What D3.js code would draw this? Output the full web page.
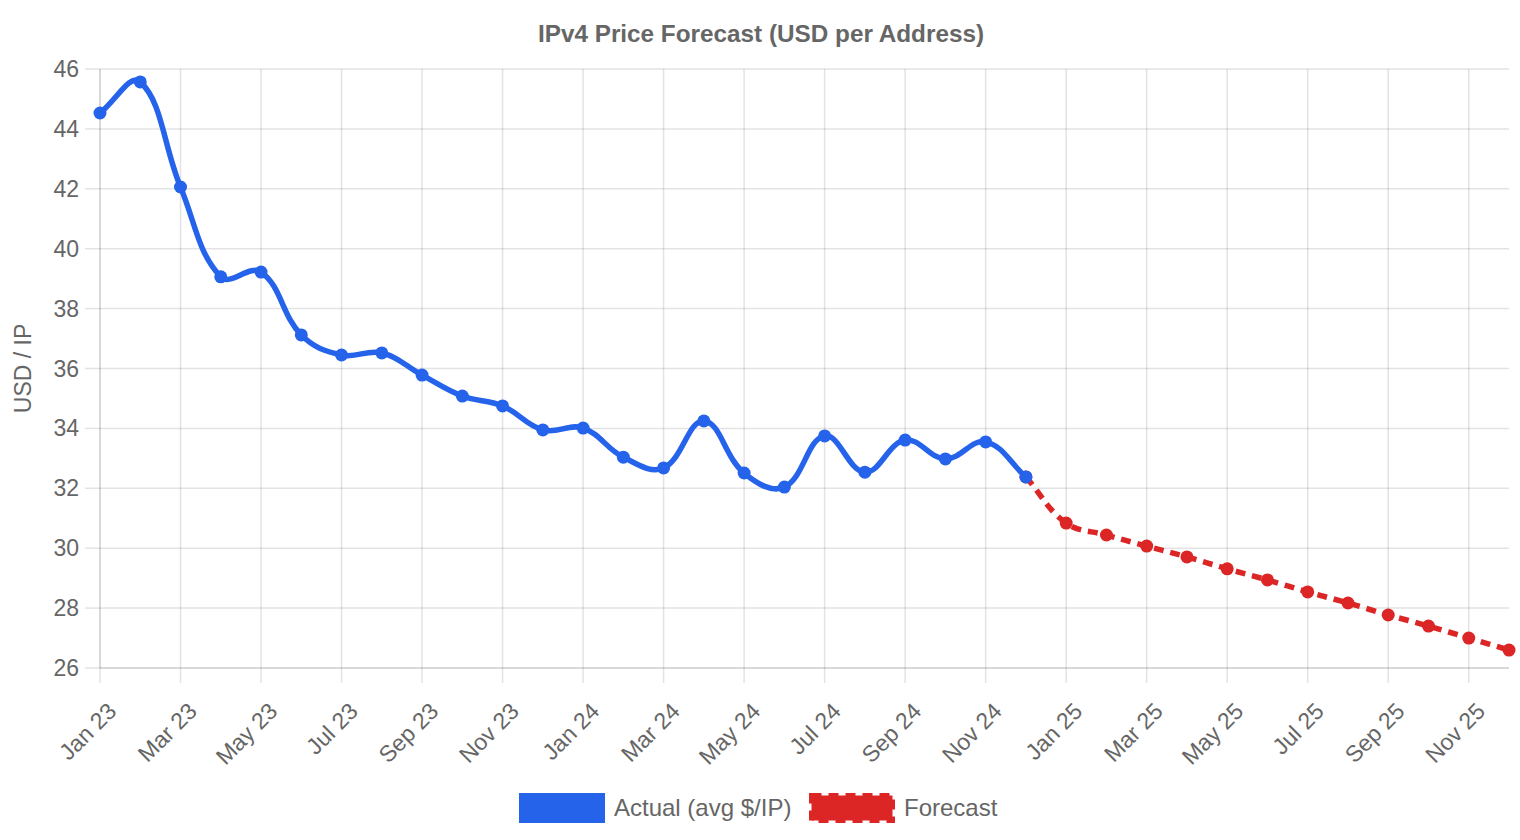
<!DOCTYPE html>
<html><head><meta charset="utf-8">
<script src="https://cdn.jsdelivr.net/npm/d3@7"></script>
<style>
html,body{margin:0;padding:0;background:#fff;}
svg{display:block;font-family:"Liberation Sans",Arial,Helvetica,sans-serif;}
</style></head>
<body><svg id="c" width="1520" height="840"></svg>
<script>
const months = ["Jan 23","Feb 23","Mar 23","Apr 23","May 23","Jun 23","Jul 23","Aug 23","Sep 23","Oct 23","Nov 23","Dec 23",
"Jan 24","Feb 24","Mar 24","Apr 24","May 24","Jun 24","Jul 24","Aug 24","Sep 24","Oct 24","Nov 24","Dec 24",
"Jan 25","Feb 25","Mar 25","Apr 25","May 25","Jun 25","Jul 25","Aug 25","Sep 25","Oct 25","Nov 25","Dec 25"];
const actualMonths = months.slice(0,24);
const actualValues = [44.53,45.57,42.06,39.06,39.22,37.12,36.45,36.52,35.78,35.08,34.75,33.95,
34.01,33.04,32.68,34.25,32.51,32.04,33.75,32.54,33.61,32.98,33.55,32.38];
const forecastMonths = months.slice(23);
const forecastValues = [32.38,30.84,30.44,30.07,29.71,29.31,28.94,28.54,28.17,27.77,27.40,27.00,26.60];
const yTicks = [26,28,30,32,34,36,38,40,42,44,46];
const xTickLabels = months.filter((m,i)=>i%2===0);
const seriesNames = ["Actual (avg $/IP)","Forecast"];
const colors = ["#2563eb","#dc2626"];

const svg = d3.select("#c");
const L=100,R=1509,T=69,B=668;
const x = d3.scalePoint().domain(months).range([L,R]);
const y = d3.scaleLinear().domain([26,46]).range([B,T]);
const grid = "rgba(0,0,0,0.11)";
const axisC = "rgba(0,0,0,0.2)";
const txt = "#666";

// title
svg.append("text").attr("x",761).attr("y",42).attr("text-anchor","middle")
  .attr("font-size",24.3).attr("font-weight","bold").attr("fill",txt)
  .text("IPv4 Price Forecast (USD per Address)");

// y grid + ticks
const gy = svg.append("g");
yTicks.forEach(v=>{
  gy.append("line").attr("x1",L-15).attr("x2",L).attr("y1",y(v)).attr("y2",y(v))
    .attr("stroke", grid).attr("stroke-width",1.5);
  gy.append("line").attr("x1",L).attr("x2",R).attr("y1",y(v)).attr("y2",y(v))
    .attr("stroke", v===26 ? axisC : grid).attr("stroke-width",1.5);
  gy.append("text").attr("x",L-21).attr("y",y(v)).attr("dy","0.35em").attr("text-anchor","end")
    .attr("font-size",23).attr("fill",txt).text(v);
});
// x grid + ticks
const gx = svg.append("g");
xTickLabels.forEach(m=>{
  const px = x(m);
  gx.append("line").attr("x1",px).attr("x2",px).attr("y1",B).attr("y2",B+15)
    .attr("stroke", grid).attr("stroke-width",1.5);
  gx.append("line").attr("x1",px).attr("x2",px).attr("y1",T).attr("y2",B)
    .attr("stroke", m==="Jan 23" ? axisC : grid).attr("stroke-width",1.5);
  gx.append("text").attr("transform",`translate(${px+12},${707}) rotate(-45)`)
    .attr("text-anchor","end").attr("dy","0.35em")
    .attr("font-size",23).attr("fill",txt).text(m);
});

// y axis title
svg.append("text").attr("transform",`translate(31,${(T+B)/2}) rotate(-90)`)
  .attr("text-anchor","middle").attr("font-size",23).attr("fill",txt).text("USD / IP");

// Chart.js-like spline
function spline(pts, t){
  const n = pts.length;
  const cps = pts.map((p,i)=>{
    const prev = pts[Math.max(0,i-1)], next = pts[Math.min(n-1,i+1)];
    const d01 = Math.hypot(p[0]-prev[0],p[1]-prev[1]);
    const d12 = Math.hypot(next[0]-p[0],next[1]-p[1]);
    let s01 = d01/(d01+d12), s12 = d12/(d01+d12);
    if(!isFinite(s01)) s01=0; if(!isFinite(s12)) s12=0;
    const fa = t*s01, fb = t*s12;
    return {
      prev:[p[0]-fa*(next[0]-prev[0]), Math.min(B,Math.max(T,p[1]-fa*(next[1]-prev[1])))],
      next:[p[0]+fb*(next[0]-prev[0]), Math.min(B,Math.max(T,p[1]+fb*(next[1]-prev[1])))]
    };
  });
  const path = d3.path();
  path.moveTo(pts[0][0],pts[0][1]);
  for(let i=1;i<n;i++){
    path.bezierCurveTo(cps[i-1].next[0],cps[i-1].next[1],cps[i].prev[0],cps[i].prev[1],pts[i][0],pts[i][1]);
  }
  return path.toString();
}

const fPts = forecastMonths.map((m,i)=>[x(m),y(forecastValues[i])]);
const aPts = actualMonths.map((m,i)=>[x(m),y(actualValues[i])]);

// forecast (drawn under)
svg.append("path").attr("d",spline(fPts,0.4)).attr("fill","none")
  .attr("stroke",colors[1]).attr("stroke-width",5.5).attr("stroke-dasharray","10 7");
svg.append("g").selectAll("circle").data(fPts).join("circle")
  .attr("cx",d=>d[0]).attr("cy",d=>d[1]).attr("r",6.5).attr("fill",colors[1]);
// actual
svg.append("path").attr("d",spline(aPts,0.4)).attr("fill","none")
  .attr("stroke",colors[0]).attr("stroke-width",5.5).attr("stroke-linejoin","round");
svg.append("g").selectAll("circle").data(aPts).join("circle")
  .attr("cx",d=>d[0]).attr("cy",d=>d[1]).attr("r",6.5).attr("fill",colors[0]);

// legend
const lg = svg.append("g");
lg.append("rect").attr("x",519).attr("y",793).attr("width",86).attr("height",30).attr("fill",colors[0]);
lg.append("text").attr("x",614).attr("y",816).attr("font-size",24).attr("fill",txt).text(seriesNames[0]);
lg.append("rect").attr("x",811.5).attr("y",795.5).attr("width",81).attr("height",25).attr("fill",colors[1])
  .attr("stroke",colors[1]).attr("stroke-width",5).attr("stroke-dasharray","10 7");
lg.append("text").attr("x",904).attr("y",816).attr("font-size",24).attr("fill",txt).text(seriesNames[1]);
</script></body></html>
